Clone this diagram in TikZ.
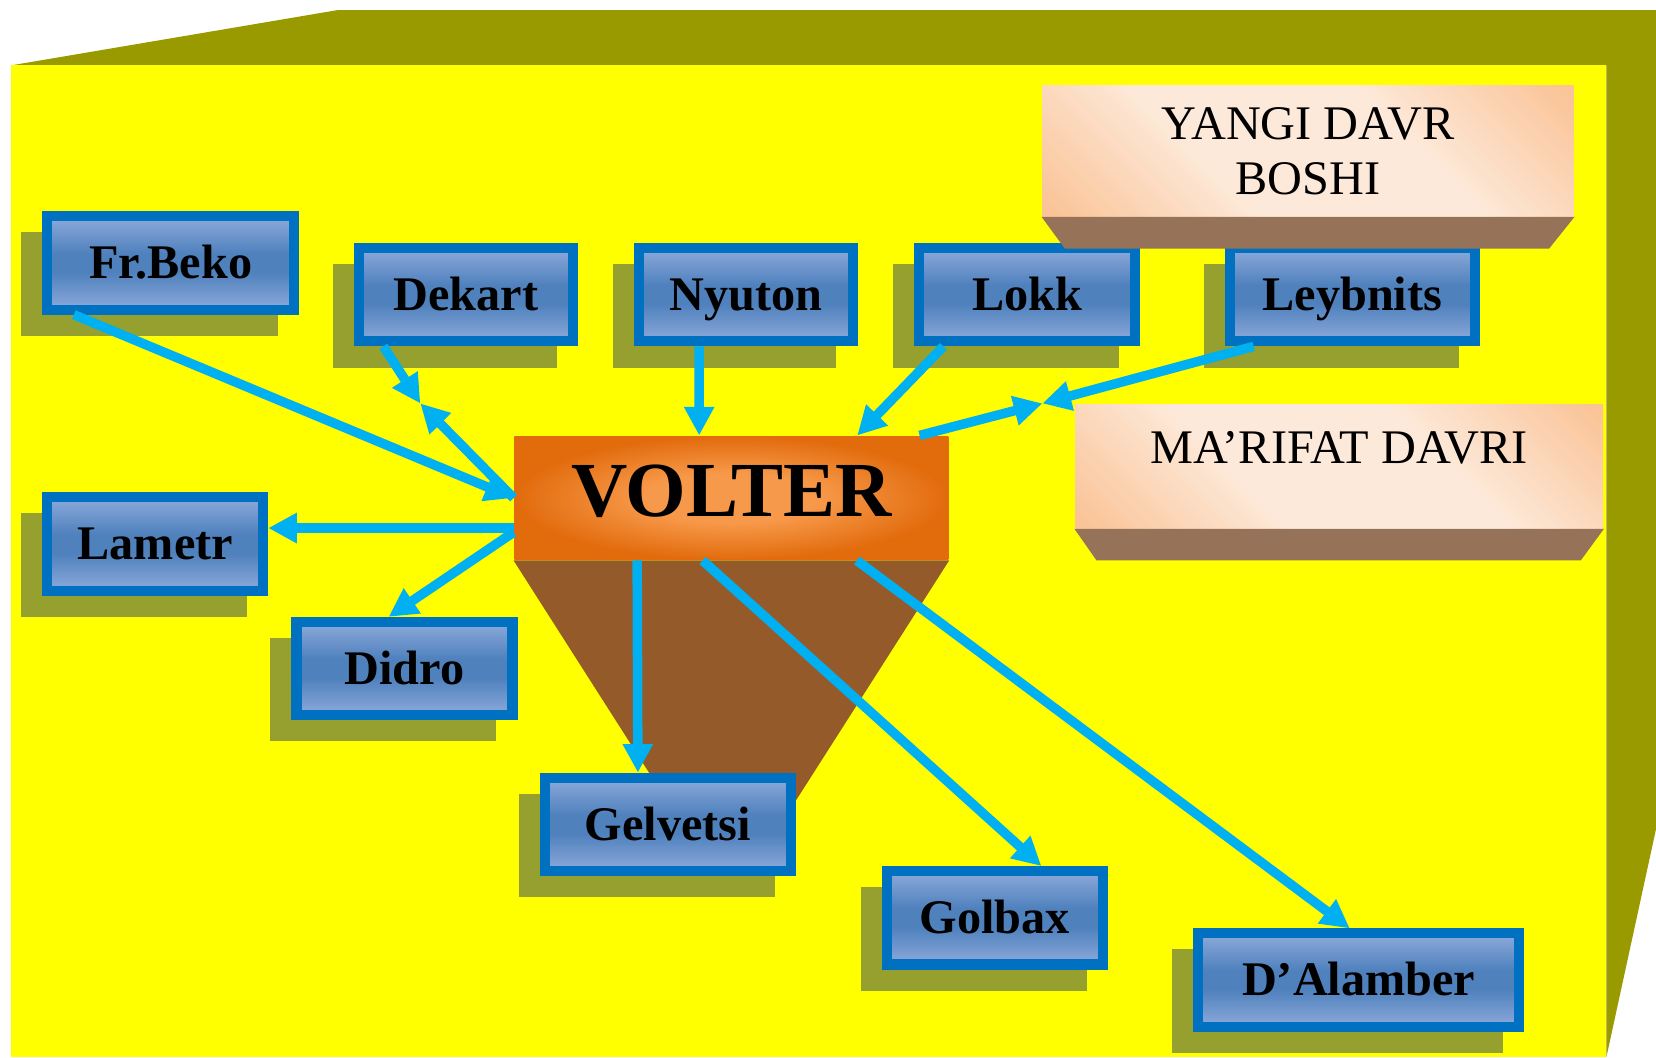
\documentclass[tikz,border=0pt]{standalone}
\usepackage{fontspec}
\setmainfont{Liberation Serif}
\usepackage{tikz}
\usetikzlibrary{arrows.meta,shadows}

\definecolor{bxlight}{RGB}{142,170,219}
\definecolor{bxmid}{RGB}{79,129,189}
\definecolor{voltlight}{RGB}{247,153,74}
\definecolor{voltdark}{RGB}{226,107,12}
\definecolor{pklight}{RGB}{253,233,217}
\definecolor{pkdark}{RGB}{250,196,152}
\pgfdeclareverticalshading{bluebar}{100bp}{color(0bp)=(bxlight); color(25bp)=(bxlight); color(45bp)=(bxmid); color(55bp)=(bxmid); color(75bp)=(bxlight); color(100bp)=(bxlight)}
\pgfdeclareradialshading{voltglow}{\pgfpoint{0bp}{0bp}}{color(0bp)=(voltlight); color(10bp)=(voltlight); color(25bp)=(voltdark); color(50bp)=(voltdark)}
\pgfdeclareverticalshading{peachband}{100bp}{color(0bp)=(pkdark); color(16bp)=(pkdark); color(38bp)=(pklight); color(62bp)=(pklight); color(84bp)=(pkdark); color(100bp)=(pkdark)}

\begin{document}
\begin{tikzpicture}[
  namebox/.style={draw=boxblue, line width=0.095cm, shading=bluebar, inner sep=0pt,
    minimum height=0.885cm, text height=0.31cm, text depth=0.01cm,
    font=\fontsize{13}{15}\selectfont\bfseries,
    general shadow={fill=shadeolive, draw=shadeolive, shadow xshift=-0.2cm, shadow yshift=-0.2cm}},
  voltbox/.style={shading=voltglow, inner sep=0pt, minimum width=4.11cm, minimum height=1.17cm,
    text depth=0.13cm, font=\fontsize{21}{24}\selectfont\bfseries},
  periodbox/.style={shading=peachband, shading angle=-45, inner sep=0pt, minimum width=5cm,
    align=center, font=\fontsize{13}{14.8}\selectfont},
  link/.style={draw=linkblue, line width=0.09cm, -{Triangle[length=0.27cm,width=0.27cm]}}]
\definecolor{cubeolive}{RGB}{153,153,0}
\definecolor{faceyellow}{RGB}{255,255,0}
\definecolor{shadeolive}{RGB}{149,160,46}
\definecolor{boxblue}{RGB}{0,112,192}
\definecolor{linkblue}{RGB}{0,176,240}
\definecolor{wedgebrown}{RGB}{148,90,42}
\definecolor{shelfbrown}{RGB}{150,115,88}
\useasboundingbox (0,0) rectangle (15.68,10.01);

\fill[cubeolive] (0.10,9.39) -- (3.20,9.915) -- (15.68,9.915) -- (15.68,2.16) -- (15.21,0) -- (15.21,9.39) -- cycle; % top and side
\fill[faceyellow] (0.10,0) rectangle (15.21,9.39); % front

\node[voltbox] (volter) at (6.925,5.295) {VOLTER};
\fill[wedgebrown] (volter.south west) -- (volter.south east) -- (7.07,1.70) -- (6.78,1.70) -- cycle; % wedge

\node[namebox, minimum width=2.335cm] (frbeko) at (1.615,7.52) {Fr.Beko};
\node[namebox, minimum width=2.025cm] (dekart) at (4.41,7.22) {Dekart};
\node[namebox, minimum width=2.025cm] (nyuton) at (7.06,7.22) {Nyuton};
\node[namebox, minimum width=2.05cm] (lokk) at (9.725,7.22) {Lokk};
\node[namebox, minimum width=2.315cm] (leybnits) at (12.805,7.22) {Leybnits};
\node[namebox, minimum width=2.045cm] (lametr) at (1.47,4.86) {Lametr};
\node[namebox, minimum width=2.045cm] (didro) at (3.83,3.68) {Didro};
\node[namebox, minimum width=2.335cm] (gelvetsi) at (6.325,2.205) {Gelvetsi};
\node[namebox, minimum width=2.045cm] (golbax) at (9.42,1.32) {Golbax};
\node[namebox, minimum width=3.035cm] (dalamber) at (12.865,0.73) {D'Alamber};

\coordinate (dekmeet) at (3.98,6.19);
\coordinate (leymeet) at (9.87,6.19);
\draw[link] ([xshift=0.30cm]frbeko.south west) -- (volter.west);
\draw[link] ([xshift=0.28cm]dekart.south west) -- (dekmeet);
\draw[link] (volter.west) -- (dekmeet);
\draw[link] ([xshift=-0.44cm]nyuton.south) -- ([xshift=-0.305cm]volter.north);
\draw[link] ([xshift=0.28cm]lokk.south west) -- ([xshift=-0.87cm]volter.north east);
\draw[link] ([xshift=0.27cm]leybnits.south west) -- (leymeet);
\draw[link] ([xshift=-0.28cm]volter.north east) -- (leymeet);
\draw[link] ([yshift=-0.285cm]volter.west) -- ([yshift=0.15cm]lametr.east);
\draw[link] ([yshift=-0.325cm]volter.west) -- ([xshift=-0.15cm]didro.north);
\draw[link] ([xshift=1.17cm]volter.south west) -- ([xshift=-0.285cm]gelvetsi.north);
\draw[link] ([xshift=1.79cm]volter.south west) -- ([xshift=0.44cm]golbax.north);
\draw[link] ([xshift=3.25cm]volter.south west) -- ([xshift=-0.085cm]dalamber.north);

\node[periodbox, minimum width=5.03cm, minimum height=1.235cm] (yangi) at (12.385,8.58) {YANGI DAVR\\BOSHI};
\fill[shelfbrown] (yangi.south west) -- (yangi.south east) -- ([xshift=-0.24cm,yshift=-0.30cm]yangi.south east) -- ([xshift=0.22cm,yshift=-0.30cm]yangi.south west) -- cycle; % shelf
\node[periodbox, minimum height=1.17cm, text height=0.30cm, text depth=0.35cm] (marifat) at (12.68,5.595) {MA'RIFAT DAVRI};
\fill[shelfbrown] (marifat.south west) -- (marifat.south east) -- ([xshift=-0.22cm,yshift=-0.30cm]marifat.south east) -- ([xshift=0.21cm,yshift=-0.30cm]marifat.south west) -- cycle; % shelf
\end{tikzpicture}
\end{document}
